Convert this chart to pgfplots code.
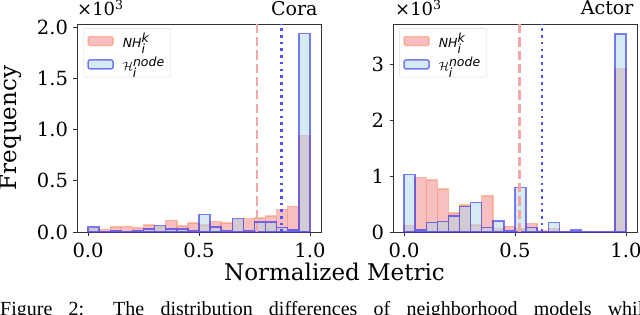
\documentclass[border=0pt]{standalone}
\usepackage{fontspec}
\setmainfont{DejaVu Serif}
\newfontfamily\legfont{DejaVu Sans}
\newfontfamily\capfont{Liberation Serif}
\usepackage{pgfplots}
\pgfplotsset{compat=1.18}

\definecolor{orfill}{RGB}{240,128,128}
\definecolor{oredge}{RGB}{255,127,80}
\definecolor{blfill}{RGB}{173,216,230}
\definecolor{bledge}{RGB}{0,0,255}
\definecolor{vred}{RGB}{245,166,166}
\definecolor{vblue}{RGB}{80,80,252}

\newcommand{\tickfont}{\fontsize{19.5}{22}\selectfont}
\newcommand{\labfont}{\fontsize{23}{26}\selectfont}
\newcommand{\legtext}{\fontsize{12.5}{14}\selectfont\legfont}

\pgfplotsset{
  histax/.style={
    scale only axis, width=244pt, height=208pt, anchor=south west,
    xmin=-0.05, xmax=1.05, ymin=0,
    xtick={0,0.5,1},
    tick align=outside, xtick pos=bottom, ytick pos=left,
    major tick length=3.5pt,
    axis line style={black!80, line width=0.8pt},
    tick style={black!80, line width=0.8pt},
    ticklabel style={font=\tickfont},
    /pgf/number format/assume math mode=true,
    xticklabel style={yshift=-3.5pt, /pgf/number format/.cd, fixed, fixed zerofill, precision=1},
    yticklabel style={xshift=-2pt},
    title style={at={(1,1)}, anchor=base east, yshift=3pt, font=\fontsize{19}{22}\selectfont},
    legend style={at={(0.025,0.98)}, anchor=north west, draw=black!15, rounded corners=2pt,
      fill=white, font=\legtext, row sep=4pt, column sep=7pt, inner xsep=4pt, inner ysep=3pt,
      cells={anchor=west}},
    legend cell align=left,
  },
  orbar/.style={ybar, bar shift=0pt, bar width=0.05, fill=orfill, fill opacity=0.5,
    draw=oredge, draw opacity=0.45, line width=1.5pt,
    legend image code/.code={\draw[fill=orfill, fill opacity=0.5, draw=oredge, draw opacity=0.45, line width=1.5pt] (0pt,-4.5pt) rectangle (25pt,4.5pt);}},
  blbar/.style={ybar, bar shift=0pt, bar width=0.05, fill=blfill, fill opacity=0.5,
    draw=bledge, draw opacity=0.5, line width=1.5pt,
    legend image code/.code={\draw[fill=blfill, fill opacity=0.5, draw=bledge, draw opacity=0.5, line width=1.5pt] (0pt,-4.5pt) rectangle (25pt,4.5pt);}},
}

\begin{document}
\begin{tikzpicture}
\path[use as bounding box] (0,0) rectangle (640pt,314pt);

% ---------------- Cora ----------------
\begin{axis}[histax, name=ax1, at={(77pt,82pt)}, ymax=2.03,
  ytick={0,0.5,1,1.5,2},
  yticklabel style={/pgf/number format/.cd, fixed, fixed zerofill, precision=1},
  title={Cora}]
\addplot[orbar] coordinates {
(0.025,0.03) (0.075,0.026) (0.125,0.049) (0.175,0.055) (0.225,0.04)
(0.275,0.068) (0.325,0.05) (0.375,0.113) (0.425,0.06) (0.475,0.09)
(0.525,0.07) (0.575,0.104) (0.625,0.09) (0.675,0.12) (0.725,0.13)
(0.775,0.136) (0.825,0.155) (0.875,0.22) (0.925,0.25) (0.975,0.94)};
\addlegendentry{\textit{NH}$_{\textit{i}}^{\textit{k}}$}
\addplot[blbar] coordinates {
(0.025,0.049) (0.075,0.005) (0.125,0.013) (0.175,0.006) (0.225,0.013)
(0.275,0.03) (0.325,0.065) (0.375,0.03) (0.425,0.03) (0.475,0.012)
(0.525,0.17) (0.575,0.049) (0.625,0.008) (0.675,0.13) (0.725,0.01)
(0.775,0.097) (0.825,0.097) (0.875,0.042) (0.925,0.02) (0.975,1.935)};
\addlegendentry{$\mathcal{H}_{\textit{i}}^{\textit{node}}$}
\addplot[vred, line width=2.5pt, dash pattern=on 9.25pt off 4pt, forget plot] coordinates {(0.761,0) (0.761,2.03)};
\addplot[vblue, line width=2.6pt, dash pattern=on 2.6pt off 4.1pt, forget plot] coordinates {(0.873,0) (0.873,2.03)};
\end{axis}

% ---------------- Actor ----------------
\begin{axis}[histax, name=ax2, at={(393pt,82pt)}, ymax=3.73,
  ytick={0,1,2,3},
  title={Actor}]
\addplot[orbar] coordinates {
(0.025,0.12) (0.075,0.98) (0.125,0.93) (0.175,0.77) (0.225,0.34)
(0.275,0.48) (0.325,0.13) (0.375,0.65) (0.425,0.06) (0.475,0.10)
(0.525,0.05) (0.575,0.15) (0.625,0.02) (0.675,0.06) (0.725,0.01)
(0.775,0.01) (0.825,0.005) (0.875,0.002) (0.925,0.0) (0.975,2.93)};
\addlegendentry{\textit{NH}$_{\textit{i}}^{\textit{k}}$}
\addplot[blbar] coordinates {
(0.025,1.03) (0.075,0.04) (0.125,0.17) (0.175,0.19) (0.225,0.29)
(0.275,0.46) (0.325,0.53) (0.375,0.08) (0.425,0.20) (0.475,0.03)
(0.525,0.80) (0.575,0.08) (0.625,0.01) (0.675,0.17) (0.725,0.01)
(0.775,0.04) (0.825,0.01) (0.875,0.005) (0.925,0.0) (0.975,3.55)};
\addlegendentry{$\mathcal{H}_{\textit{i}}^{\textit{node}}$}
\addplot[vred, line width=2.5pt, dash pattern=on 9.25pt off 4pt, forget plot] coordinates {(0.52,0) (0.52,3.73)};
\addplot[vblue, line width=2.6pt, dash pattern=on 2.6pt off 4.1pt, forget plot] coordinates {(0.622,0) (0.622,3.73)};
\end{axis}

% offset texts
\node[anchor=base west, inner sep=0pt, font=\fontsize{18}{20}\selectfont] at ([yshift=8pt]ax1.north west) {×10\textsuperscript{3}};
\node[anchor=base west, inner sep=0pt, font=\fontsize{18}{20}\selectfont] at ([yshift=8pt,xshift=2pt]ax2.north west) {×10\textsuperscript{3}};

% axis labels
\node[rotate=90, anchor=center, font=\labfont] at (11pt,186pt) {Frequency};
\node[anchor=base, font=\labfont] at (334.5pt,34pt) {Normalized Metric};

% caption (cut at the bottom as in the reference)
\node[anchor=base west, inner sep=0pt, font=\capfont\fontsize{20}{24}\selectfont] at (0pt,-1.5pt)
  {\makebox[652pt][s]{Figure 2: The distribution differences of neighborhood models while}};
\end{tikzpicture}
\end{document}
